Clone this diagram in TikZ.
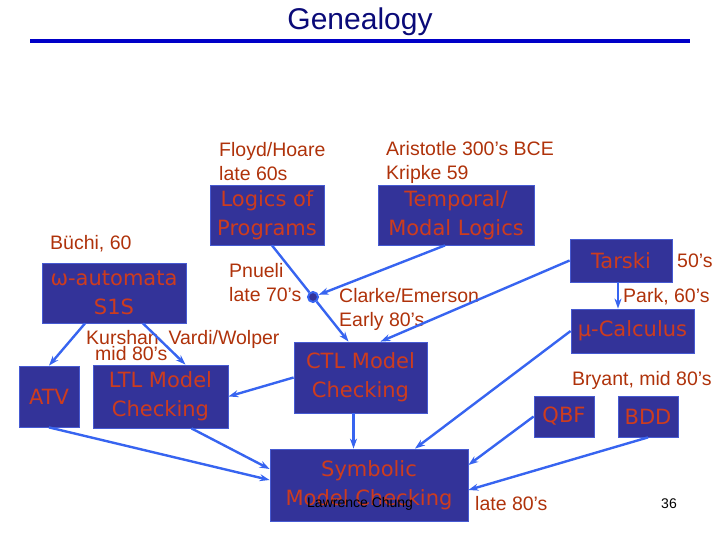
\documentclass[tikz,border=0pt]{standalone}
\usepackage{fontspec}
\setmainfont{Liberation Sans}
\newfontfamily\comicfont{DejaVu Sans}
\usetikzlibrary{arrows.meta}
\definecolor{boxfill}{RGB}{51,51,153}
\definecolor{boxedge}{RGB}{70,90,210}
\definecolor{boxtext}{RGB}{205,60,30}
\definecolor{labelred}{RGB}{175,50,10}
\definecolor{linkblue}{RGB}{55,100,240}
\definecolor{titleblue}{RGB}{10,10,120}
\definecolor{ruleblue}{RGB}{0,0,200}

\begin{document}
\begin{tikzpicture}[x=1pt,y=-1pt,
  era/.style={rectangle,draw=boxedge,fill=boxfill,line width=0.8pt,inner sep=0pt,
              text=boxtext,align=center,font=\comicfont\fontsize{21}{29}\selectfont},
  who/.style={anchor=west,inner sep=0pt,align=left,text=labelred,
              font=\fontsize{19.5}{24}\selectfont},
  link/.style={draw=linkblue,line width=2.4pt,-{Stealth[length=10pt,width=7pt]}},
  >=Stealth
]
  \useasboundingbox (0,0) rectangle (720,540);
  % Title
  \node[text=titleblue,font=\fontsize{30}{36}\selectfont] (title) at (360,22) {Genealogy};
  \draw[ruleblue,line width=4pt] (30,41) -- (690,41);

  % Logics
  \node[era,minimum width=114pt,minimum height=60pt] (logic) at (267,215) {Logics of\\Programs};
  \node[era,minimum width=156pt,minimum height=60pt] (temporal) at (456,215) {Temporal/\\Modal Logics};
  \node[era,minimum width=144pt,minimum height=60pt] (omega) at (114,293) {ω-automata\\S1S};
  \node[era,minimum width=102pt,minimum height=43pt] (tarski) at (621,260.5) {Tarski};
  \node[era,minimum width=123pt,minimum height=44pt] (mucalc) at (632.5,331) {μ-Calculus};
  % Model checkers
  \node[era,minimum width=60pt,minimum height=61pt] (atv) at (49,396.5) {ATV};
  \node[era,minimum width=135pt,minimum height=63pt] (ltl) at (160.5,396.5) {LTL Model\\Checking};
  \node[era,minimum width=133pt,minimum height=71pt] (ctl) at (360.5,377.5) {CTL Model\\Checking};
  \node[era,minimum width=60pt,minimum height=41pt] (qbf) at (564,416.5) {QBF};
  \node[era,minimum width=60pt,minimum height=41pt] (bdd) at (648,416.5) {BDD};
  \node[era,minimum width=198pt,minimum height=72pt] (smc) at (369,485) {Symbolic\\Model Checking};
  \node[circle,draw=linkblue,fill=boxfill,line width=2pt,minimum size=10pt,inner sep=0pt] (dot) at (313,297) {};

  % Who and when
  \node[who] (floyd) at (219,162) {Floyd/Hoare\\late 60s};
  \node[who] (aristotle) at (386,162) {Aristotle 300's BCE\\Kripke 59};
  \node[who] (buchi) at (50,244) {Büchi, 60};
  \node[who] (pnueli) at (229,283) {Pnueli\\late 70's};
  \node[who] (clarke) at (339,309) {Clarke/Emerson\\Early 80's};
  \node[who] (fifties) at (677,261) {50's};
  \node[who] (park) at (623,297) {Park, 60's};
  \node[who] (kurshan) at (86,339) {Kurshan\hspace{0.5em}Vardi/Wolper};
  \node[who] (mideighty) at (95,354) {mid 80's};
  \node[who] (bryant) at (572,380) {Bryant, mid 80's};
  \node[who] (lateeighty) at (475,504) {late 80's};

  % Links
  \draw[draw=linkblue,line width=2.4pt] ([xshift=5pt]logic.south) -- (dot);
  \draw[link] ([xshift=-11pt]temporal.south) -- (dot);
  \draw[link] (dot) -- ([xshift=-12pt]ctl.north);
  \draw[link] (tarski.west) -- ([xshift=20pt]ctl.north);
  \draw[link] ([xshift=-3pt]tarski.south) -- ([xshift=-3pt]tarski.south |- mucalc.north);
  \draw[link] ([xshift=-29pt]omega.south) -- (atv.north);
  \draw[link] ([xshift=29pt]omega.south) -- ([xshift=25pt]ltl.north);
  \draw[link] (ctl.west) -- (ltl.east);
  \draw[link] (atv.south) -- ([yshift=5pt]smc.west);
  \draw[link] ([xshift=31pt]ltl.south) -- ([yshift=16pt]smc.west);
  \draw[link] ([xshift=-7pt]ctl.south) -- ([xshift=-7pt]ctl.south |- smc.north);
  \draw[link] (mucalc.west) -- ([xshift=46pt]smc.north);
  \draw[link] (qbf.west) -- ([yshift=20pt]smc.east);
  \draw[link] (bdd.south) -- ([yshift=-5pt]smc.east);

  % Footer
  \node[anchor=west,inner sep=0pt,font=\fontsize{14}{16}\selectfont] (chung) at (307,504) {Lawrence Chung};
  \node[inner sep=0pt,font=\fontsize{14}{16}\selectfont] (page) at (669,504) {36};
\end{tikzpicture}
\end{document}
